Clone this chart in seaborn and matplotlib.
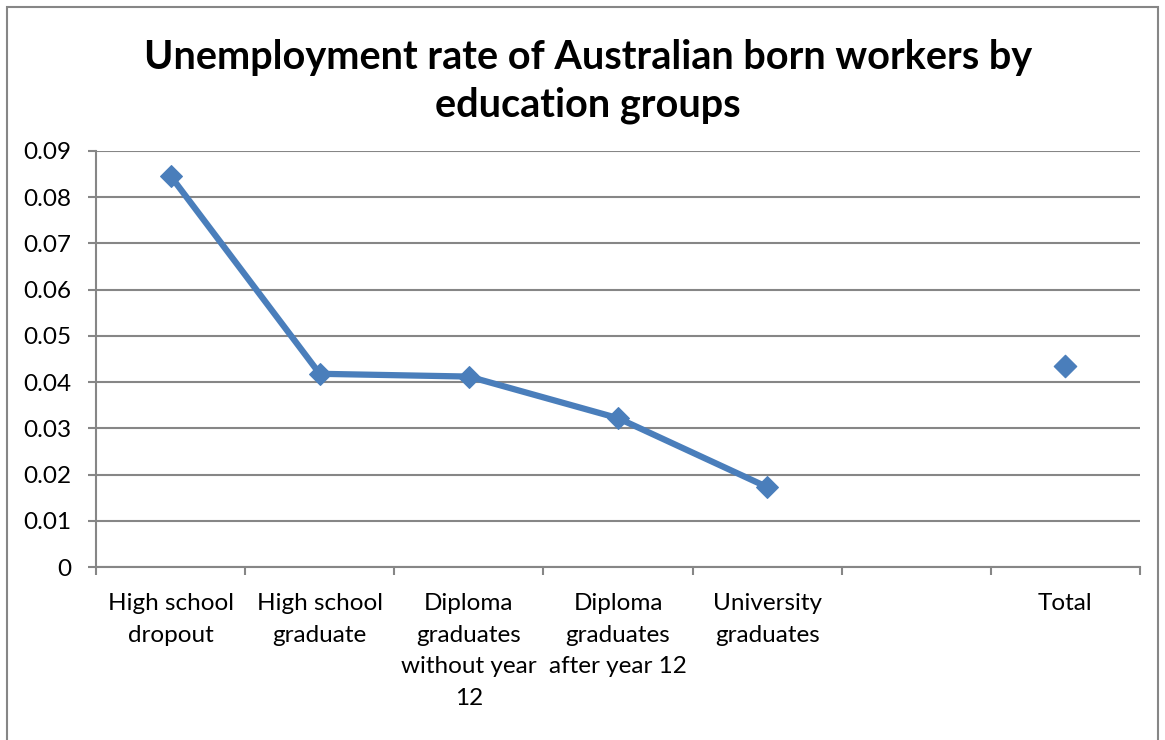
import numpy as np
import matplotlib
matplotlib.use("Agg")
import matplotlib.pyplot as plt
import seaborn as sns
import pandas as pd
from matplotlib.patches import Rectangle

categories = ["High school\ndropout", "High school\ngraduate", "Diploma\ngraduates\nwithout year\n12",
              "Diploma\ngraduates\nafter year 12", "University\ngraduates", "", "Total"]
line_values = [0.0846, 0.0418, 0.0412, 0.0322, 0.0173]
total_value = [0.0434]
y_ticks = [0, 0.01, 0.02, 0.03, 0.04, 0.05, 0.06, 0.07, 0.08, 0.09]
y_ticklabels = ["0", "0.01", "0.02", "0.03", "0.04", "0.05", "0.06", "0.07", "0.08", "0.09"]

sns.set_style("white")
plt.rcParams['font.family'] = ['Lato', 'DejaVu Sans']
plt.rcParams['text.color'] = 'black'
plt.rcParams['xtick.labelcolor'] = 'black'
plt.rcParams['ytick.labelcolor'] = 'black'

fig = plt.figure(figsize=(11.65, 7.40), dpi=100)
ax = fig.add_axes([96/1165, 1-567/740, (1140-96)/1165, (567-151)/740])

color = "#4a7ebb"
df_line = pd.DataFrame({"x": np.arange(len(line_values)), "y": line_values})
df_total = pd.DataFrame({"x": [6], "y": total_value})
sns.lineplot(data=df_line, x="x", y="y", ax=ax, color=color, linewidth=4.5,
             marker="D", markersize=11, markeredgecolor=color, zorder=3)
sns.scatterplot(data=df_total, x="x", y="y", ax=ax, color=color, marker="D", s=130,
                edgecolor=color, zorder=3)

ax.set_xlim(-0.5, 6.5)
ax.set_ylim(0, 0.09)
ax.set_yticks(y_ticks)
ax.set_yticklabels(y_ticklabels, fontsize=17.5, color="black")
ax.set_xticks(np.arange(len(categories)))
ax.set_xticklabels(categories, fontsize=17.5, linespacing=1.62, color="black")
ax.set_xticks(np.arange(-0.5, 7.0, 1.0), minor=True)
ax.tick_params(axis="x", which="major", bottom=True, length=0, pad=19)
ax.tick_params(axis="x", which="minor", bottom=True, length=6, width=1.5, color="#868686", direction="out")
ax.tick_params(axis="y", left=True, length=6, width=1.5, color="#868686", direction="out", pad=12)
ax.set_xlabel("")
ax.set_ylabel("")
ax.grid(axis="y", color="#868686", linewidth=1.5)
ax.set_axisbelow(True)
for s in ["top", "right"]:
    ax.spines[s].set_visible(False)
for s in ["left", "bottom"]:
    ax.spines[s].set_color("#868686")
    ax.spines[s].set_linewidth(1.5)

fig.text(588/1165, 1-58/740, "Unemployment rate of Australian born workers by",
         ha="center", va="center", fontsize=28.5, fontweight="bold", color="black")
fig.text(588/1165, 1-105/740, "education groups",
         ha="center", va="center", fontsize=28.5, fontweight="bold", color="black")

fig.patches.append(Rectangle((7/1165, -0.01), (1158-7)/1165, 1.0, transform=fig.transFigure,
                             fill=False, edgecolor="#868686", linewidth=1.5))

fig.savefig("out.png", dpi=100)
